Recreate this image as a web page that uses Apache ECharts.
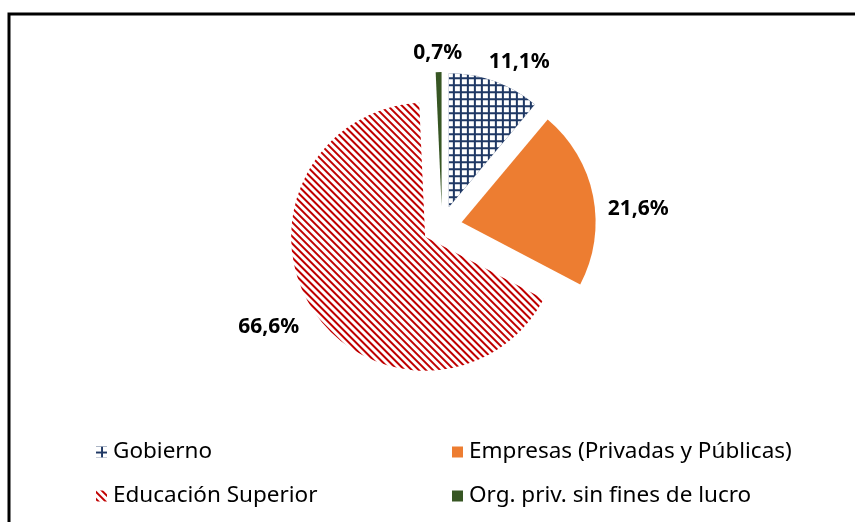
<!DOCTYPE html>
<html>
<head>
<meta charset="utf-8">
<script src="https://cdn.jsdelivr.net/npm/echarts@6/dist/echarts.min.js"></script>
<style>
  html, body { margin: 0; padding: 0; background: #ffffff; }
  #chart { width: 855px; height: 522px; }
</style>
</head>
<body>
<div id="chart"></div>
<script>
// Shares of spending by sector (%), clockwise from 12 o'clock
const categories = [
  'Gobierno',
  'Empresas (Privadas y Públicas)',
  'Educación Superior',
  'Org. priv. sin fines de lucro'
];
const shares = [11.1, 21.6, 66.6, 0.7];

// Legend laid out as two columns
const legendLeftColumn = ['Gobierno', 'Educación Superior'];
const legendRightColumn = ['Empresas (Privadas y Públicas)', 'Org. priv. sin fines de lucro'];

// Fill for each slice: navy grid, solid orange, red hatching, solid green
const sliceStyles = [
  {
    color: '#1F3864',
    decal: { symbol: 'rect', symbolSize: 1, color: '#ffffff',
             dashArrayX: [5, 2], dashArrayY: [5, 2], rotation: 0 }
  },
  { color: '#ED7D31' },
  {
    color: '#ffffff',
    decal: { symbol: 'rect', symbolSize: 1, color: '#C00000',
             dashArrayX: [1, 0], dashArrayY: [2, 2.4], rotation: Math.PI / 4 }
  },
  { color: '#375623' }
];

// Small per-label nudges away from the default outside position
const labelNudges = [[-16, -5], [-5, 16], [5, 10], [29, -4]];

const fontFamily = '"Noto Sans", "Open Sans", sans-serif';

const pieData = categories.map((name, i) => ({
  name: name,
  value: shares[i],
  selected: true,
  itemStyle: Object.assign({ borderWidth: 0 }, sliceStyles[i])
}));

const legendBase = {
  orient: 'vertical',
  top: 435,
  itemWidth: 11,
  itemHeight: 11,
  itemGap: 20,
  selectedMode: false,
  icon: 'rect',
  textStyle: {
    fontFamily: fontFamily,
    fontSize: 22.5,
    color: '#000000',
    lineHeight: 24,
    padding: [0, 0, 0, 1]
  }
};

const chart = echarts.init(document.getElementById('chart'), null, { renderer: 'canvas' });
chart.setOption({
  animation: false,
  backgroundColor: '#ffffff',
  graphic: [{
    type: 'rect',
    silent: true,
    shape: { x: 9, y: 14, width: 900, height: 600 },
    style: { fill: 'none', stroke: '#000000', lineWidth: 3 }
  }],
  legend: [
    Object.assign({}, legendBase, { left: 91, data: legendLeftColumn }),
    Object.assign({}, legendBase, { left: 447, data: legendRightColumn })
  ],
  series: [{
    type: 'pie',
    center: [442, 226],
    radius: 134,
    startAngle: 90,
    clockwise: true,
    selectedMode: 'multiple',
    selectedOffset: 20,
    avoidLabelOverlap: false,
    emphasis: { disabled: true },
    label: {
      show: true,
      position: 'outside',
      fontFamily: fontFamily,
      fontSize: 21,
      fontWeight: 'bold',
      color: '#000000',
      formatter: p => p.value.toFixed(1).replace('.', ',') + '%'
    },
    labelLine: { show: false, length: 15, length2: 0 },
    labelLayout: p => ({ dx: labelNudges[p.dataIndex][0], dy: labelNudges[p.dataIndex][1] }),
    data: pieData
  }]
});
</script>
</body>
</html>
